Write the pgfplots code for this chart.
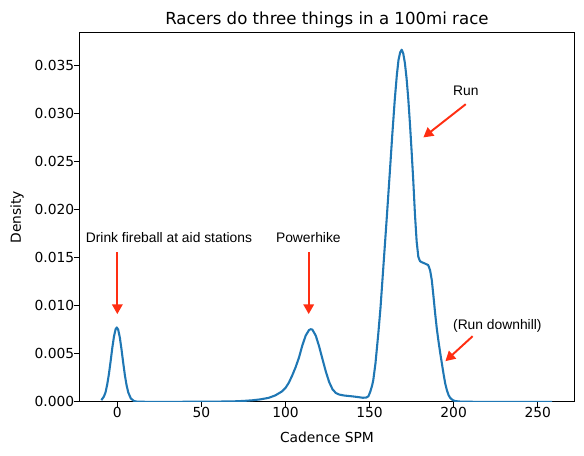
\documentclass[border=0pt]{standalone}
\usepackage{fontspec}
\setmainfont{DejaVu Sans}
\newfontfamily\annfont{Liberation Sans}
\usepackage{pgfplots}
\pgfplotsset{compat=1.18}
\usetikzlibrary{arrows.meta}
\definecolor{mplblue}{HTML}{1F77B4}
\definecolor{arrowred}{HTML}{FF2E12}

% Kernel density estimate of cadence (steps per minute)
\pgfplotstableread{
x y
-9.5 0.00018
-8 0.00055
-7 0.00100
-6 0.00182
-5 0.00290
-4 0.00421
-3 0.00560
-2 0.00681
-1 0.00758
-0.3 0.00775
0.5 0.00753
1.5 0.00670
2.5 0.00546
3.5 0.00407
4.5 0.00277
5.5 0.00173
6.5 0.00099
8 0.00036
10 0.00008
12 0.00002
20 0.00000
40 0.00001
60 0.00003
70 0.00006
75 0.00010
80 0.00016
85 0.00026
90 0.00042
94 0.00068
98 0.00110
100 0.00145
102 0.00200
104 0.00275
106 0.00360
108 0.00460
110 0.00587
112 0.00690
114 0.00748
115 0.00757
116 0.00752
118 0.00690
120 0.00578
122 0.00445
124 0.00315
126 0.00205
128 0.00130
130 0.00092
132 0.00076
135 0.00066
140 0.00057
144 0.00048
146 0.00043
148 0.00045
149.3 0.00058
150.5 0.00110
151.5 0.00170
152.2 0.00226
153.5 0.00400
155.2 0.00712
156.5 0.00980
158.2 0.01406
160.2 0.01910
162 0.02380
163.5 0.02780
165 0.03150
166.2 0.03400
167.2 0.03560
168.2 0.03640
169.1 0.03667
170 0.03630
171 0.03530
172 0.03370
173 0.03160
174 0.02900
175 0.02610
176 0.02300
177 0.01950
178 0.01670
179 0.01510
180 0.01465
181 0.01455
183 0.01440
184.9 0.01424
186 0.01370
187 0.01268
188 0.01100
189 0.00920
190 0.00760
191 0.00630
192 0.00510
193 0.00400
194 0.00290
195 0.00190
196 0.00120
197 0.00070
198 0.00040
199.5 0.00018
201 0.00008
204 0.00003
210 0.00001
230 0.00000
258.5 0.00000
}\cadence

\begin{document}
\begin{tikzpicture}
\begin{axis}[
  name=ax,
  scale only axis,
  width=356.5bp, height=266bp,
  xmin=-22.6, xmax=271.9,
  ymin=0, ymax=0.03848,
  xtick={0,50,100,150,200,250},
  ytick={0,0.005,0.01,0.015,0.02,0.025,0.03,0.035},
  scaled y ticks=false,
  /pgf/number format/assume math mode=true,
  tick align=outside,
  xtick pos=left, ytick pos=left,
  major tick length=3.5bp,
  every tick/.style={black, line width=0.8bp},
  axis line style={line width=0.8bp},
  tick label style={font=\fontsize{10}{12}\selectfont},
  xticklabel style={anchor=north, inner sep=0pt},
  yticklabel style={anchor=east, inner sep=0pt,
    /pgf/number format/.cd, fixed, fixed zerofill, precision=3},
]
\addplot[mplblue, line width=1.5bp, line join=round, no markers] table[x=x, y=y] {\cadence};

% annotations
\begin{scope}[arrowred, line width=1.4bp, -{Triangle[length=7bp,width=7.5bp]}]
  \draw (axis cs:0,0.0156) -- (axis cs:0,0.00914);
  \draw (axis cs:113.8,0.0156) -- (axis cs:113.8,0.00914);
  \draw (axis cs:207.2,0.0310) -- (axis cs:182.0,0.02754);
  \draw (axis cs:211.3,0.00684) -- (axis cs:195.1,0.00424);
\end{scope}
\begin{scope}[every node/.style={font=\annfont\fontsize{10}{12}\selectfont, anchor=base, inner sep=0pt}]
  \node at (axis cs:30.7,0.01656) {Drink fireball at aid stations};
  \node at (axis cs:113.6,0.01656) {Powerhike};
  \node at (axis cs:207.2,0.03188) {Run};
  \node at (axis cs:226.0,0.00757) {(Run downhill)};
\end{scope}
\end{axis}
\node[anchor=base, font=\fontsize{12}{14.4}\selectfont] at ([yshift=6bp]ax.north) {Racers do three things in a 100mi race};
\node[anchor=base, font=\fontsize{10}{12}\selectfont] at ([yshift=-29.3bp]ax.south) {Cadence SPM};
\node[rotate=90, anchor=base, font=\fontsize{10}{12}\selectfont] at ([xshift=-42bp]ax.west) {Density};
\pgfresetboundingbox
\path[use as bounding box] ([shift={(-57.1bp,-38.4bp)}]ax.south west) rectangle ([shift={(6.8bp,23.3bp)}]ax.north east);
\end{tikzpicture}
\end{document}
